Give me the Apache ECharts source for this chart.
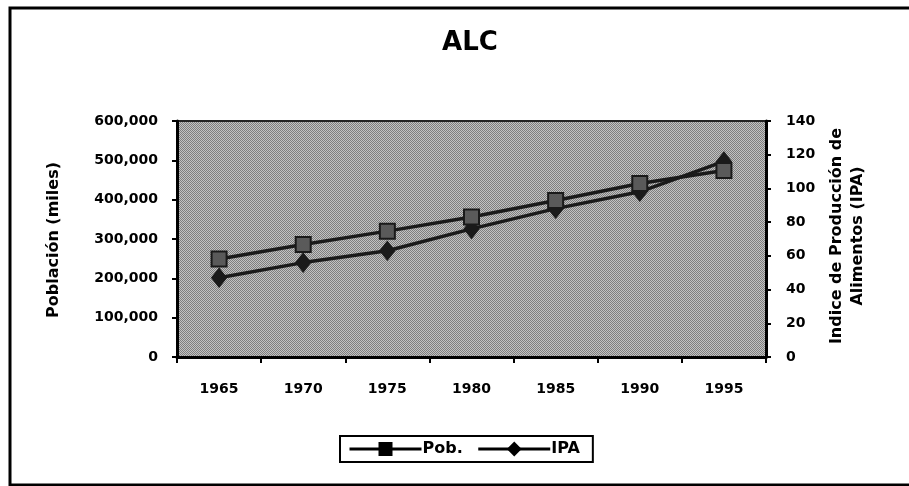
<!DOCTYPE html>
<html>
<head>
<meta charset="utf-8">
<title>ALC</title>
<script src="https://cdn.jsdelivr.net/npm/echarts@6/dist/echarts.min.js"></script>
<style>
    html, body { margin: 0; padding: 0; background: #fff; }
    #main { width: 909px; height: 486px; }
</style>
</head>
<body>
<div id="main"></div>
<script>
// datos
const years = ['1965', '1970', '1975', '1980', '1985', '1990', '1995'];
const poblacion = [249000, 286000, 320000, 356000, 398000, 441000, 474000];
const ipa = [47, 56, 63, 76, 88, 98, 116];
const leftTicks = [0, 600000, 100000];   // min, max, intervalo
const rightTicks = [0, 140, 20];

// trama gris del área de trazado
function grayPattern() {
    const c = document.createElement('canvas');
    c.width = 2;
    c.height = 2;
    const ctx = c.getContext('2d');
    ctx.fillStyle = '#c2c2c2';
    ctx.fillRect(0, 0, 2, 2);
    ctx.fillStyle = '#7e7e7e';
    ctx.fillRect(0, 0, 1, 1);
    ctx.fillRect(1, 1, 1, 1);
    return c;
}

const font = 'DejaVu Sans, sans-serif';
const chart = echarts.init(document.getElementById('main'));

const axisCommon = {
    splitLine: { show: false },
    axisLine: { show: true, lineStyle: { color: '#000', width: 3 } },
    axisTick: { show: true, inside: false, length: 5, lineStyle: { color: '#000', width: 2 } },
    axisLabel: { color: '#000', fontSize: 14, fontWeight: 'bold', fontFamily: font }
};

chart.setOption({
    animation: false,
    backgroundColor: '#fff',
    title: {
        text: 'ALC',
        left: 465,
        top: 25,
        textAlign: 'center',
        textStyle: { fontSize: 26, fontWeight: 'bold', fontFamily: font, color: '#000' }
    },
    graphic: [
        {
            type: 'rect',
            shape: { x: 10, y: 8, width: 920, height: 477 },
            style: { fill: 'none', stroke: '#000', lineWidth: 3 },
            silent: true
        },
        {
            type: 'text',
            x: 54, y: 240,
            rotation: Math.PI / 2,
            style: {
                text: 'Población (miles)',
                fill: '#000', font: 'bold 16px ' + font,
                textAlign: 'center', textVerticalAlign: 'middle'
            }
        },
        {
            type: 'text',
            x: 847, y: 236,
            rotation: Math.PI / 2,
            style: {
                text: 'Indice de Producción de\nAlimentos (IPA)',
                fill: '#000', font: 'bold 16px ' + font, lineHeight: 21,
                textAlign: 'center', textVerticalAlign: 'middle'
            }
        }
    ],
    grid: {
        left: 177,
        right: 143,
        top: 121,
        bottom: 129,
        show: true,
        backgroundColor: { image: grayPattern(), repeat: 'repeat' },
        borderColor: '#222',
        borderWidth: 2
    },
    legend: {
        data: ['Pob.', 'IPA'],
        left: 340,
        top: 436,
        itemWidth: 72,
        itemHeight: 15,
        itemGap: 14,
        padding: [5, 13, 5, 8],
        borderColor: '#000',
        borderWidth: 2,
        lineStyle: { width: 3, color: '#000' },
        itemStyle: { color: '#000', borderColor: '#000' },
        textStyle: { color: '#000', fontSize: 16, fontWeight: 'bold', fontFamily: font, padding: [0, 0, 0, -4] }
    },
    xAxis: Object.assign({}, axisCommon, {
        type: 'category',
        data: years,
        boundaryGap: true,
        axisTick: { show: true, length: 6, lineStyle: { color: '#000', width: 2 } },
        axisLabel: Object.assign({}, axisCommon.axisLabel, { margin: 25 })
    }),
    yAxis: [
        Object.assign({}, axisCommon, {
            type: 'value',
            position: 'left',
            min: leftTicks[0],
            max: leftTicks[1],
            interval: leftTicks[2],
            axisLabel: Object.assign({}, axisCommon.axisLabel, {
                margin: 19,
                formatter: function (v) { return v.toLocaleString('en-US'); }
            })
        }),
        Object.assign({}, axisCommon, {
            type: 'value',
            position: 'right',
            min: rightTicks[0],
            max: rightTicks[1],
            interval: rightTicks[2],
            axisLabel: Object.assign({}, axisCommon.axisLabel, { margin: 20 })
        })
    ],
    series: [
        {
            name: 'Pob.',
            type: 'line',
            yAxisIndex: 0,
            data: poblacion,
            symbol: 'rect',
            symbolSize: 15,
            lineStyle: { color: '#1a1a1a', width: 3.5 },
            itemStyle: { color: '#5a5a5a', borderColor: '#1a1a1a', borderWidth: 2 },
            z: 3
        },
        {
            name: 'IPA',
            type: 'line',
            yAxisIndex: 1,
            data: ipa,
            symbol: 'diamond',
            symbolSize: [15, 19],
            lineStyle: { color: '#1a1a1a', width: 3.5 },
            itemStyle: { color: '#1a1a1a', borderColor: '#1a1a1a', borderWidth: 1 },
            z: 2
        }
    ]
});
</script>
</body>
</html>
